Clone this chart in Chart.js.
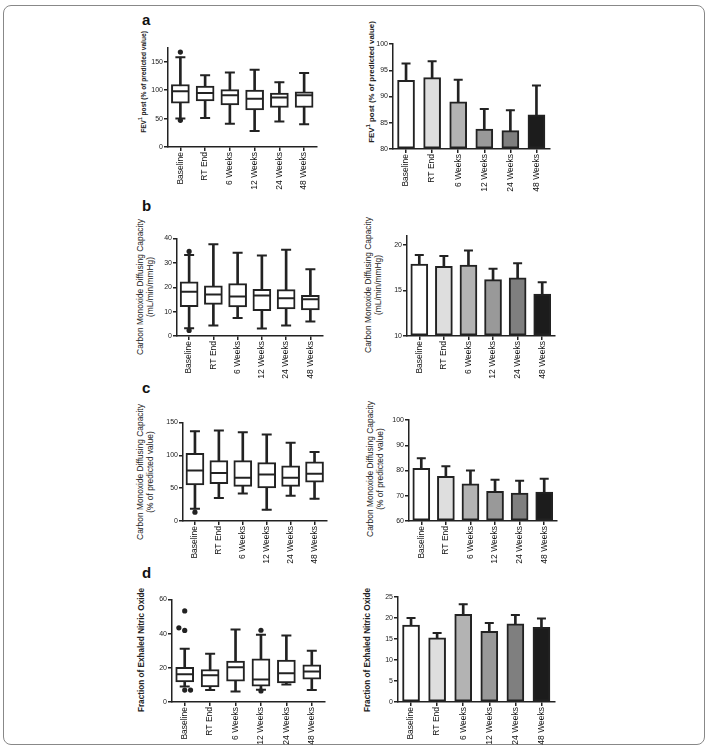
<!DOCTYPE html>
<html>
<head>
<meta charset="utf-8">
<script src="https://cdn.jsdelivr.net/npm/chart.js@4"></script>
<style>
  body { margin: 0; background: #fff; width: 708px; height: 747px; position: relative; overflow: hidden; font-family: 'Liberation Sans', Arial, sans-serif; }
  .frame { position: absolute; left: 3px; top: 5px; width: 700px; height: 738px; border: 1px solid #888; border-radius: 8px; }
  canvas { position: absolute; }
  .letter { position: absolute; font-weight: bold; font-size: 15px; line-height: 1; color: #111; }
  .ytitle { position: absolute; white-space: nowrap; text-align: center; color: #222; line-height: 10px; transform: translate(-50%, -50%) rotate(-90deg); }
</style>
</head>
<body>
<div class="frame"></div>

<div class="letter" style="left:142px;top:12px">a</div>
<div class="letter" style="left:142px;top:198px">b</div>
<div class="letter" style="left:142px;top:380px">c</div>
<div class="letter" style="left:142px;top:565px">d</div>

<div class="ytitle" style="left:142px;top:82px;font-size:6.6px;font-weight:bold">FEV<sup style="font-size:5px">1</sup> post (% of predicted value)</div>
<div class="ytitle" style="left:370px;top:82px;font-size:7.9px;font-weight:bold">FEV<sup style="font-size:6px">1</sup> post (% of predicted value)</div>
<div class="ytitle" style="left:145px;top:287px;font-size:8.4px">Carbon Monoxide Diffusing Capacity<br>(mL/min/mmHg)</div>
<div class="ytitle" style="left:373px;top:285px;font-size:8.4px">Carbon Monoxide Diffusing Capacity<br>(mL/min/mmHg)</div>
<div class="ytitle" style="left:145px;top:472px;font-size:8.4px">Carbon Monoxide Diffusing Capacity<br>(% of predicted value)</div>
<div class="ytitle" style="left:375px;top:469px;font-size:8.4px">Carbon Monoxide Diffusing Capacity<br>(% of predicted value)</div>
<div class="ytitle" style="left:142px;top:650px;font-size:8.2px;font-weight:bold">Fraction of Exhaled Nitric Oxide</div>
<div class="ytitle" style="left:368px;top:650px;font-size:8.2px;font-weight:bold">Fraction of Exhaled Nitric Oxide</div>

<canvas id="aBox" width="189" height="158" style="left:138px;top:37px"></canvas>
<canvas id="aBar" width="191" height="161" style="left:365px;top:36px"></canvas>
<canvas id="bBox" width="198" height="156" style="left:135px;top:228px"></canvas>
<canvas id="bBar" width="198" height="156" style="left:363px;top:228px"></canvas>
<canvas id="cBox" width="202" height="157" style="left:135px;top:412px"></canvas>
<canvas id="cBar" width="198" height="157" style="left:365px;top:412px"></canvas>
<canvas id="dBox" width="198" height="161" style="left:137px;top:589px"></canvas>
<canvas id="dBar" width="198" height="161" style="left:363px;top:589px"></canvas>

<script>
var categories = ['Baseline', 'RT End', '6 Weeks', '12 Weeks', '24 Weeks', '48 Weeks'];
var barColors = ['#ffffff', '#dedede', '#b3b3b3', '#999999', '#7f7f7f', '#1c1c1c'];

// a - FEV1 post (% of predicted value)
var fevMin = [50, 51, 41, 28, 45, 40];
var fevQ1 = [77, 81, 74, 65, 69.5, 69.5];
var fevMedian = [98, 95, 91, 85, 87, 91];
var fevQ3 = [110, 107, 101, 100, 95, 97];
var fevMax = [158, 126, 131, 136, 114, 130];
var fevOutX = [0, 0];
var fevOutY = [167, 47];
var fevMean = [93.1, 93.6, 89.0, 83.8, 83.5, 86.5];
var fevErr = [3.2, 3.1, 4.2, 3.8, 3.9, 5.6];
var fevTicksBox = [0, 50, 100, 150];
var fevTicksBar = [80, 85, 90, 95, 100];

// b - DLCO (mL/min/mmHg)
var dlcoMin = [3.2, 4.3, 7.4, 3.1, 4.3, 5.9];
var dlcoQ1 = [12, 13, 11.9, 10.4, 11.1, 10.7];
var dlcoMedian = [18.2, 17, 16.2, 16.6, 15.5, 15.1];
var dlcoQ3 = [22.2, 20.6, 21.5, 19.1, 19, 16.7];
var dlcoMax = [33.2, 37.6, 34.2, 33, 35.4, 27.4];
var dlcoOutX = [0, 0];
var dlcoOutY = [34.7, 2.3];
var dlcoMean = [17.9, 17.65, 17.8, 16.2, 16.4, 14.6];
var dlcoErr = [1.0, 1.15, 1.6, 1.2, 1.6, 1.3];
var dlcoTicksBox = [0, 10, 20, 30, 40];
var dlcoTicksBar = [10, 15, 20];

// c - DLCO (% of predicted value)
var dlcoPctMin = [18.5, 35, 42, 17, 38.4, 33.8];
var dlcoPctQ1 = [55, 57, 52.8, 50.3, 52.8, 59];
var dlcoPctMedian = [77, 73, 65.7, 70.7, 65.7, 72];
var dlcoPctQ3 = [103, 92, 92, 88.8, 84, 90];
var dlcoPctMax = [136.8, 138, 135, 131.8, 119, 105];
var dlcoPctOutX = [0];
var dlcoPctOutY = [13.5];
var dlcoPctMean = [80.9, 77.7, 74.7, 71.8, 71.1, 71.5];
var dlcoPctErr = [4.0, 4.0, 5.3, 4.5, 4.8, 5.2];
var dlcoPctTicksBox = [0, 50, 100, 150];
var dlcoPctTicksBar = [60, 70, 80, 90, 100];

// d - FeNO
var fenoMin = [9.1, 7, 6.1, 7.2, 10.3, 7];
var fenoQ1 = [11.8, 8.9, 12.2, 9.3, 11.2, 13.3];
var fenoMedian = [16.3, 15.6, 20.3, 13.1, 16.9, 17.9];
var fenoQ3 = [20.3, 19, 24, 25.3, 24.6, 21.7];
var fenoMax = [31.2, 28.2, 42.5, 39.4, 39, 30];
var fenoOutX = [0, -0.23, 0, 0, 0.23, 3, 3];
var fenoOutY = [53.3, 43.4, 41.9, 7, 7, 42, 6.5];
var fenoMean = [18.3, 15.3, 20.9, 16.8, 18.6, 17.8];
var fenoErr = [1.7, 1.1, 2.4, 2.0, 2.1, 2.1];
var fenoTicksBox = [0, 20, 40, 60];
var fenoTicksBar = [0, 5, 10, 15, 20, 25];

var ink = '#222';
Chart.defaults.font.family = "'Liberation Sans', Arial, sans-serif";

function yAxis(min, max, ticks, boxWidth) {
  return {
    min: min,
    max: max,
    afterBuildTicks: function(s) { s.ticks = ticks.map(function(v) { return {value: v}; }); },
    afterFit: function(s) { s.width = boxWidth; s.paddingTop = 0; s.paddingBottom = 0; },
    border: {color: ink, width: 1.5},
    grid: {drawOnChartArea: false, color: ink, lineWidth: 1.5, tickLength: 4},
    ticks: {color: ink, padding: 1, font: {size: 7}}
  };
}

function xAxis(linear) {
  var axis = {
    afterFit: function(s) { s.height = 48; s.paddingLeft = 0; s.paddingRight = 0; },
    border: {color: ink, width: 1.5},
    grid: {offset: false, drawOnChartArea: false, color: ink, lineWidth: 1.5, tickLength: 4},
    ticks: {color: '#111', padding: 1, autoSkip: false, minRotation: 90, maxRotation: 90, font: {size: 8.5}}
  };
  if (linear) {
    // box plots sit on a numeric axis so outlier dots can be nudged sideways
    axis.type = 'linear';
    axis.offset = false;
    axis.min = -0.5;
    axis.max = categories.length - 0.5;
    axis.afterBuildTicks = function(s) { s.ticks = categories.map(function(c, i) { return {value: i}; }); };
    axis.ticks.callback = function(v) { return categories[v]; };
  }
  return axis;
}

function baseOptions(scales) {
  return {
    responsive: false,
    animation: false,
    events: [],
    layout: {padding: {top: 8, right: 4, left: 0, bottom: 0}},
    plugins: {legend: {display: false}, tooltip: {enabled: false}},
    scales: scales
  };
}

function lineMarks(points, radius, order) {
  return {
    type: 'line', data: points, showLine: false, pointStyle: 'line',
    pointRadius: radius, pointBorderWidth: 2, pointBorderColor: ink, order: order
  };
}

function at(values) {
  return values.map(function(v, i) { return {x: i, y: v}; });
}

function boxChart(id, mins, q1, med, q3, maxs, outX, outY, y) {
  new Chart(document.getElementById(id), {
    type: 'bar',
    data: {
      datasets: [
        {
          type: 'scatter',
          data: outX.map(function(x, i) { return {x: x, y: outY[i]}; }),
          pointRadius: 2.6, pointBackgroundColor: ink, pointBorderWidth: 0, order: 0
        },
        lineMarks(at(med), 8.5, 1),
        lineMarks(at(mins), 5, 1),
        lineMarks(at(maxs), 5, 1),
        {
          data: at(q1.map(function(v, i) { return [v, q3[i]]; })),
          backgroundColor: '#fff', borderColor: ink, borderWidth: 2, borderSkipped: false,
          barThickness: 18, grouped: false, order: 2
        },
        {
          data: at(mins.map(function(v, i) { return [v, maxs[i]]; })),
          backgroundColor: ink, borderWidth: 0, barThickness: 2, grouped: false, order: 3
        }
      ]
    },
    options: baseOptions({x: xAxis(true), y: y})
  });
}

function barChart(id, mean, err, yMin, y) {
  new Chart(document.getElementById(id), {
    type: 'bar',
    data: {
      labels: categories,
      datasets: [
        lineMarks(mean.map(function(m, i) { return m + err[i]; }), 4.5, 0),
        {
          data: mean.map(function(m, i) { return [m, m + err[i]]; }),
          backgroundColor: ink, borderWidth: 0, barThickness: 2, grouped: false, order: 1
        },
        {
          data: mean, base: yMin,
          backgroundColor: barColors, borderColor: ink, borderWidth: 2, borderSkipped: false,
          barThickness: 17, grouped: false, order: 2
        }
      ]
    },
    options: baseOptions({x: xAxis(false), y: y})
  });
}

boxChart('aBox', fevMin, fevQ1, fevMedian, fevQ3, fevMax, fevOutX, fevOutY, yAxis(0, 175, fevTicksBox, 30));
barChart('aBar', fevMean, fevErr, 80, yAxis(80, 100, fevTicksBar, 28));

boxChart('bBox', dlcoMin, dlcoQ1, dlcoMedian, dlcoQ3, dlcoMax, dlcoOutX, dlcoOutY, yAxis(0, 40, dlcoTicksBox, 42));
barChart('bBar', dlcoMean, dlcoErr, 10, yAxis(10, 21, dlcoTicksBar, 44));

boxChart('cBox', dlcoPctMin, dlcoPctQ1, dlcoPctMedian, dlcoPctQ3, dlcoPctMax, dlcoPctOutX, dlcoPctOutY, yAxis(0, 150, dlcoPctTicksBox, 48));
barChart('cBar', dlcoPctMean, dlcoPctErr, 60, yAxis(60, 100, dlcoPctTicksBar, 44));

boxChart('dBox', fenoMin, fenoQ1, fenoMedian, fenoQ3, fenoMax, fenoOutX, fenoOutY, yAxis(0, 60, fenoTicksBox, 35));
barChart('dBar', fenoMean, fenoErr, 0, yAxis(0, 25, fenoTicksBar, 35));
</script>
</body>
</html>
